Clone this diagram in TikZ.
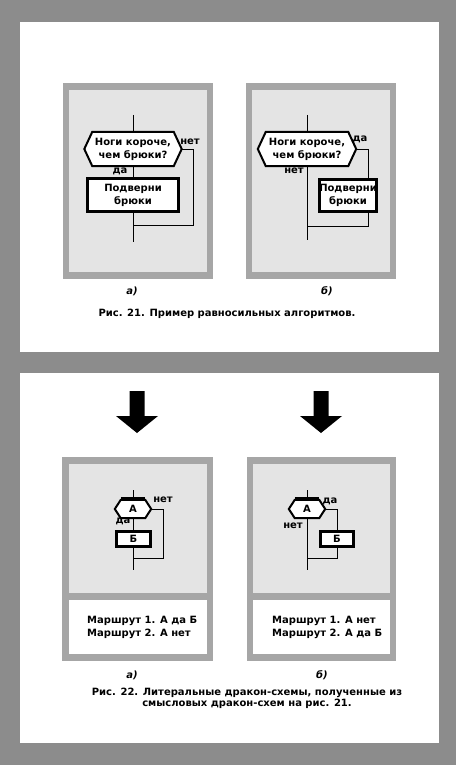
\documentclass[tikz,border=0pt]{standalone}
\usepackage{fontspec}
\setmainfont{DejaVu Sans}
\definecolor{bggray}{HTML}{8C8C8C}
\definecolor{framegray}{HTML}{A6A6A6}
\definecolor{innergray}{HTML}{E4E4E4}
\tikzset{
  txt/.style={font=\bfseries\fontsize{10}{13}\selectfont, inner sep=0pt, align=center},
  hexbody/.style={txt, minimum height=#1},
  hexline/.style={draw=black, fill=white, line width=2pt, line join=miter},
  actbox/.style={txt, draw=black, fill=white, line width=3.3pt},
  conn/.style={draw=black, line width=1pt},
  bigarrow/.style={fill=black}
}
\newcommand{\hexdraw}[2]{%
  \filldraw[hexline] (#1.north west) -- (#1.north east) -- ([xshift=#2]#1.east) --
    (#1.south east) -- (#1.south west) -- ([xshift=-#2]#1.west) -- cycle;}
\begin{document}
\begin{tikzpicture}[x=1pt,y=-1pt]
\fill[bggray] (0,0) rectangle (456,765);
\useasboundingbox (0,0) rectangle (456,765);
\fill[white] (20,22) rectangle (439,352);
\fill[white] (20,373) rectangle (439,743);
% top frames
\fill[framegray] (63,83) rectangle (213,279);
\fill[innergray] (69,90) rectangle (207,272);
\fill[framegray] (246,83) rectangle (396,279);
\fill[innergray] (252,90) rectangle (390,272);
% bottom frames
\fill[framegray] (62,457) rectangle (213,661);
\fill[innergray] (69,464) rectangle (207,593);
\fill[white] (69,600) rectangle (207,654);
\fill[framegray] (247,457) rectangle (396,661);
\fill[innergray] (253,464) rectangle (390,593);
\fill[white] (253,600) rectangle (390,654);

% ---------- Diagram 21a ----------
\coordinate (a1top) at (133,115);
\coordinate (a1end) at (133,242);
\coordinate (a1r) at (193,149);
\coordinate (a1j) at (133,225);
\node[hexbody=34pt, minimum width=81pt] (a1q) at (133,149) {\phantom{Ноги короче,}\\\phantom{чем брюки?}};
\node[actbox, minimum width=91pt, minimum height=33pt] (a1act) at (133,195) {Подверни\\брюки};
\draw[conn] (a1top) -- (a1q.north);
\draw[conn] (a1q.south) -- (a1act.north);
\draw[conn] (a1act.south) -- (a1end);
\draw[conn] ([xshift=8pt]a1q.east) -- (a1r) |- (a1j);
\hexdraw{a1q}{8pt}
\node[txt] (a1qt) at (a1q.center) {Ноги короче,\\чем брюки?};
\node[txt] (a1no) at (190,142) {нет};
\node[txt] (a1yes) at (120,171) {да};

% ---------- Diagram 21b ----------
\coordinate (b1top) at (307,115);
\coordinate (b1end) at (307,240);
\coordinate (b1r) at (368,149);
\coordinate (b1j) at (307,226);
\node[hexbody=34pt, minimum width=82pt] (b1q) at (307,149) {};
\node[actbox, minimum width=57pt, minimum height=32pt] (b1act) at (348,195.5) {Подверни\\брюки};
\draw[conn] (b1top) -- (b1q.north);
\draw[conn] (b1q.south) -- (b1end);
\draw[conn] ([xshift=8pt]b1q.east) -- (b1r) -- (b1r |- b1act.north);
\draw[conn] (b1r |- b1act.south) |- (b1j);
\hexdraw{b1q}{8pt}
\node[txt] (b1qt) at (b1q.center) {Ноги короче,\\чем брюки?};
\node[txt] (b1yes) at (360,139) {да};
\node[txt] (b1no) at (294,171) {нет};

\node[txt, font=\bfseries\itshape\fontsize{10}{13}\selectfont] (cap21a) at (132,291) {а)};
\node[txt, font=\bfseries\itshape\fontsize{10}{13}\selectfont] (cap21b) at (327,291) {б)};
\node[txt] (cap21) at (227,314) {Рис. 21. Пример равносильных алгоритмов.};

% ---------- big arrows ----------
\fill[bigarrow] (129.5,391) -- (144.5,391) -- (144.5,416) -- (158,416) -- (137,433) -- (116,416) -- (129.5,416) -- cycle;
\fill[bigarrow] (313.5,391) -- (328.5,391) -- (328.5,416) -- (342,416) -- (321,433) -- (300,416) -- (313.5,416) -- cycle;

% ---------- Diagram 22a ----------
\coordinate (a2top) at (133,490);
\coordinate (a2end) at (133,570);
\coordinate (a2r) at (163,509);
\coordinate (a2j) at (133,558);
\node[hexbody=18pt, minimum width=24pt] (a2q) at (133,509) {};
\node[actbox, minimum width=34pt, minimum height=15pt, line width=3pt] (a2act) at (133.5,539) {Б};
\draw[conn] (a2top) -- (a2q.north);
\draw[conn] (a2q.south) -- (a2act.north -| a2top);
\draw[conn] (a2act.south -| a2top) -- (a2end);
\draw[conn] ([xshift=6pt]a2q.east) -- (a2r) |- (a2j);
\hexdraw{a2q}{6pt}
\draw[line width=3pt] ([yshift=1pt]a2q.north west) -- ([yshift=1pt]a2q.north east);
\node[txt] (a2qt) at (a2q.center) {А};
\node[txt] (a2no) at (163,500) {нет};
\node[txt] (a2yes) at (123,521) {да};
\node[txt, anchor=west, align=left] (a2route) at (87,627) {Маршрут 1. А да Б\\Маршрут 2. А нет};

% ---------- Diagram 22b ----------
\coordinate (b2top) at (307,490);
\coordinate (b2end) at (307,570);
\coordinate (b2r) at (337,509);
\coordinate (b2j) at (307,558);
\node[hexbody=18pt, minimum width=24pt] (b2q) at (307,509) {};
\node[actbox, minimum width=33pt, minimum height=15pt, line width=3pt] (b2act) at (337,539) {Б};
\draw[conn] (b2top) -- (b2q.north);
\draw[conn] (b2q.south) -- (b2end);
\draw[conn] ([xshift=6pt]b2q.east) -- (b2r) -- (b2act.north);
\draw[conn] (b2act.south) |- (b2j);
\hexdraw{b2q}{6pt}
\draw[line width=3pt] ([yshift=1pt]b2q.north west) -- ([yshift=1pt]b2q.north east);
\node[txt] (b2qt) at (b2q.center) {А};
\node[txt] (b2yes) at (330,501) {да};
\node[txt] (b2no) at (293,526) {нет};
\node[txt, anchor=west, align=left] (b2route) at (272,627) {Маршрут 1. А нет\\Маршрут 2. А да Б};

\node[txt, font=\bfseries\itshape\fontsize{10}{13}\selectfont] (cap22a) at (132,675) {а)};
\node[txt, font=\bfseries\itshape\fontsize{10}{13}\selectfont] (cap22b) at (322,675) {б)};
\node[txt, font=\bfseries\fontsize{10}{11}\selectfont] (cap22) at (247,698) {Рис. 22. Литеральные дракон-схемы, полученные из\\смысловых дракон-схем на рис. 21.};
\end{tikzpicture}
\end{document}
